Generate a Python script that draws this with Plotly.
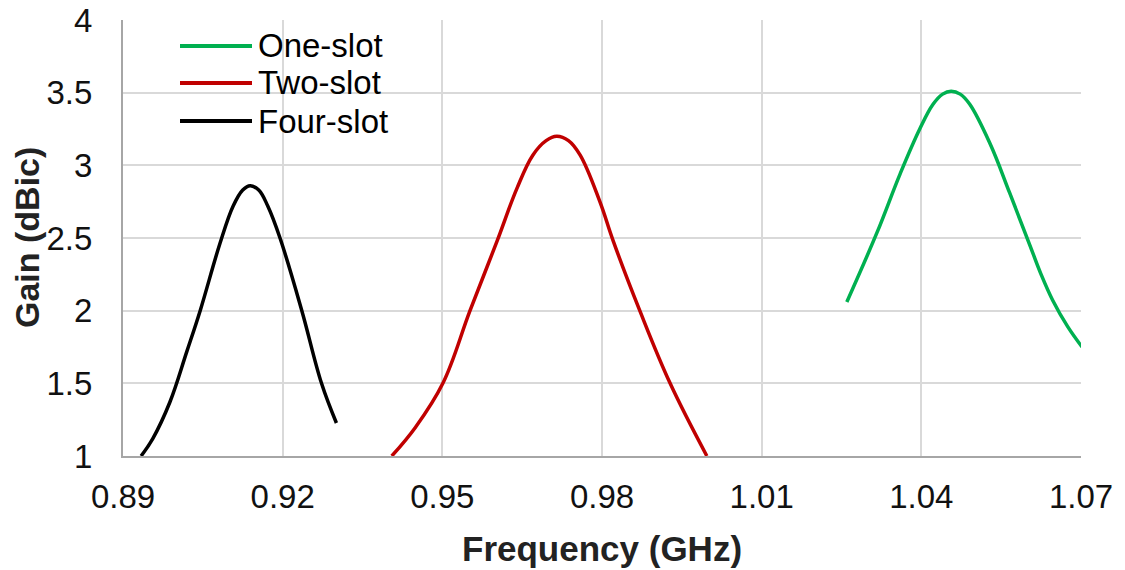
import plotly.graph_objects as go

# ---- data ----
four_x = [0.8934, 0.8956, 0.8988, 0.9020, 0.9045, 0.9082, 0.9107, 0.9125, 0.9139,
          0.9155, 0.9172, 0.9195, 0.9236, 0.9273, 0.9301]
four_y = [1.00, 1.12, 1.37, 1.72, 2.00, 2.46, 2.72, 2.83, 2.86,
          2.83, 2.72, 2.50, 2.00, 1.50, 1.227]

two_x = [0.9405, 0.9450, 0.9501, 0.9552, 0.9603, 0.9640, 0.9670, 0.9695, 0.9715,
         0.9737, 0.9759, 0.9796, 0.9821, 0.9871, 0.9928, 0.9997]
two_y = [1.00, 1.20, 1.50, 2.00, 2.48, 2.84, 3.07, 3.17, 3.20,
         3.17, 3.07, 2.75, 2.48, 2.00, 1.50, 1.00]

one_x = [1.0260, 1.0317, 1.0360, 1.0397, 1.0422, 1.0440, 1.0456, 1.0473, 1.0491,
         1.0529, 1.0566, 1.0604, 1.0625, 1.0647, 1.0675, 1.0702]
one_y = [2.06, 2.54, 2.94, 3.25, 3.42, 3.49, 3.51, 3.49, 3.42,
         3.15, 2.81, 2.45, 2.25, 2.07, 1.89, 1.75]

series_names = ["One-slot", "Two-slot", "Four-slot"]
series_colors = ["#00b050", "#c00000", "#000000"]

x_ticks = [0.89, 0.92, 0.95, 0.98, 1.01, 1.04, 1.07]
x_tick_labels = ["0.89", "0.92", "0.95", "0.98", "1.01", "1.04", "1.07"]
y_ticks = [1, 1.5, 2, 2.5, 3, 3.5, 4]
y_tick_labels = ["1", "1.5", "2", "2.5", "3", "3.5", "4"]

FONT = "Liberation Sans, Arial, sans-serif"

fig = go.Figure()
for xs, ys, name, col in [(one_x, one_y, series_names[0], series_colors[0]),
                          (two_x, two_y, series_names[1], series_colors[1]),
                          (four_x, four_y, series_names[2], series_colors[2])]:
    fig.add_trace(go.Scatter(x=xs, y=ys, mode="lines", name=name,
                             line=dict(color=col, width=3.5, shape="spline", smoothing=1.1),
                             showlegend=False))

# manual legend (long line samples like the reference)
L, R, T, B = 123, 44, 20, 114
W, H = 1125, 570
pw, ph = W - L - R, H - T - B
def px(xp):
    return (xp - L) / pw
def py(yp):
    return 1 - (yp - T) / ph

leg_rows = [46, 83, 121]
for name, col, yrow in zip(series_names, series_colors, leg_rows):
    fig.add_shape(type="line", xref="paper", yref="paper",
                  x0=px(180), x1=px(252), y0=py(yrow), y1=py(yrow),
                  line=dict(color=col, width=4))
    fig.add_annotation(text=name, xref="paper", yref="paper",
                       x=px(256), y=py(yrow), xanchor="left", yanchor="middle",
                       showarrow=False, font=dict(family=FONT, size=33, color="#000"))

# axis titles
fig.add_annotation(text="<b>Frequency (GHz)</b>", xref="paper", yref="paper",
                   x=0.5, y=0, xanchor="center", yanchor="middle", yshift=-92,
                   showarrow=False, font=dict(family=FONT, size=35, color="#222"))
fig.add_annotation(text="<b>Gain (dBic)</b>", xref="paper", yref="paper",
                   x=0, y=0.5, xanchor="center", yanchor="middle", xshift=-96,
                   textangle=-90, showarrow=False,
                   font=dict(family=FONT, size=34, color="#222"))

fig.update_xaxes(range=[0.89, 1.07], tickvals=x_ticks, ticktext=x_tick_labels,
                 showgrid=True, gridcolor="#d9d9d9", gridwidth=1.5,
                 showline=True, linecolor="#a6a6a6", linewidth=2,
                 zeroline=False, ticks="", ticklabelstandoff=10, automargin=False,
                 tickfont=dict(family=FONT, size=33, color="#111"))
fig.update_yaxes(range=[1, 4], tickvals=y_ticks, ticktext=y_tick_labels,
                 showgrid=True, gridcolor="#d9d9d9", gridwidth=1.5,
                 showline=True, linecolor="#a6a6a6", linewidth=2,
                 zeroline=False, ticks="", ticklabelstandoff=22, automargin=False,
                 tickfont=dict(family=FONT, size=33, color="#111"))

fig.update_layout(width=W, height=H, margin=dict(l=L, r=R, t=T, b=B, autoexpand=False),
                  plot_bgcolor="white", paper_bgcolor="white", showlegend=False)

fig.write_html("out.html")
